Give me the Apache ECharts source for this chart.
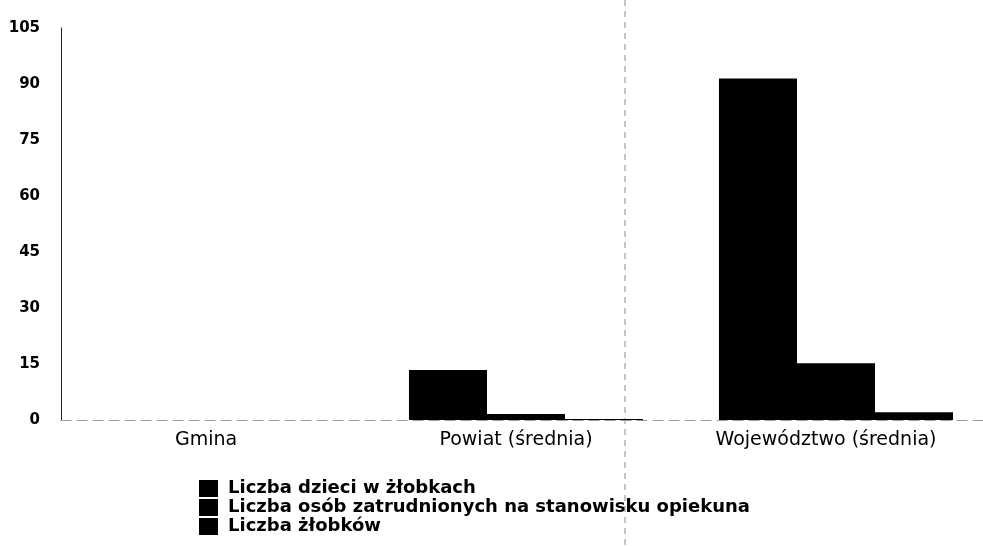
<!DOCTYPE html>
<html>
<head>
<meta charset="utf-8">
<script src="https://cdn.jsdelivr.net/npm/echarts@6/dist/echarts.min.js"></script>
<style>
html, body { margin: 0; padding: 0; background: #fff; }
#main { width: 983px; height: 546px; }
</style>
</head>
<body>
<div id="main"></div>
<script>
var categories = ['Gmina', 'Powiat (średnia)', 'Województwo (średnia)'];
var seriesNames = ['Liczba dzieci w żłobkach', 'Liczba osób zatrudnionych na stanowisku opiekuna', 'Liczba żłobków'];
var dzieci = [0, 13.4, 91.5];
var opiekunowie = [0, 1.6, 15.2];
var zlobki = [0, 0.3, 2.1];
var yTicks = [0, 15, 30, 45, 60, 75, 90, 105];

var myChart = echarts.init(document.getElementById('main'));

var font = 'DejaVu Sans';

var option = {
    animation: false,
    backgroundColor: '#fff',
    grid: {
        left: 61,
        top: 28,
        width: 930,
        bottom: 126,
        outerBoundsMode: 'none'
    },
    legend: {
        orient: 'vertical',
        left: 199,
        top: 479,
        padding: 0,
        itemGap: 0,
        itemWidth: 19,
        itemHeight: 17,
        icon: 'rect',
        data: seriesNames,
        textStyle: {
            fontFamily: font,
            fontSize: 18,
            fontWeight: 'bold',
            color: '#000',
            lineHeight: 19,
            padding: [0, 0, 0, 5]
        }
    },
    xAxis: {
        type: 'category',
        data: categories,
        axisLine: {
            show: true,
            lineStyle: { color: '#999', type: [10, 6], width: 1 }
        },
        axisTick: { show: false },
        axisLabel: {
            fontFamily: font,
            fontSize: 19,
            color: '#000',
            margin: 11,
            padding: [0, 20, 0, 0]
        }
    },
    yAxis: {
        type: 'value',
        min: yTicks[0],
        max: yTicks[yTicks.length - 1],
        interval: 15,
        axisLine: {
            show: true,
            lineStyle: { color: '#222', width: 1 }
        },
        axisTick: { show: false },
        splitLine: { show: false },
        axisLabel: {
            fontFamily: font,
            fontSize: 15,
            fontWeight: 'bold',
            color: '#000',
            margin: 21
        }
    },
    series: [{
        name: seriesNames[0],
        type: 'bar',
        data: dzieci,
        barGap: 0,
        barCategoryGap: '24.5%',
        itemStyle: { color: '#000' }
    }, {
        name: seriesNames[1],
        type: 'bar',
        data: opiekunowie,
        barGap: 0,
        barCategoryGap: '24.5%',
        itemStyle: { color: '#000' }
    }, {
        name: seriesNames[2],
        type: 'bar',
        data: zlobki,
        barGap: 0,
        barCategoryGap: '24.5%',
        itemStyle: { color: '#000' }
    }],
    graphic: [{
        // fold line from the scan
        type: 'line',
        shape: { x1: 625, y1: 0, x2: 625, y2: 546 },
        style: { stroke: '#888', lineWidth: 1, lineDash: [6, 5] },
        silent: true
    }]
};

myChart.setOption(option);
</script>
</body>
</html>
